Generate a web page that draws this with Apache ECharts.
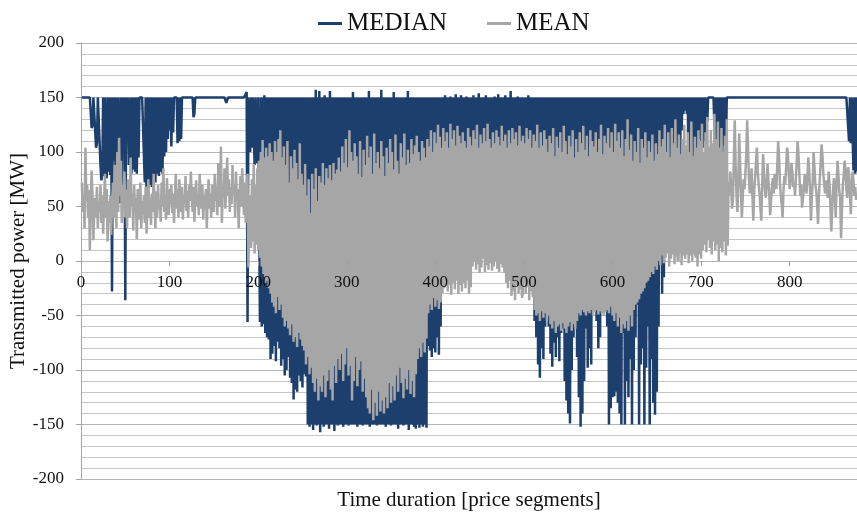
<!DOCTYPE html>
<html>
<head>
<meta charset="utf-8">
<title>Transmitted power</title>
<script src="https://cdn.jsdelivr.net/npm/echarts@6/dist/echarts.min.js"></script>
<style>
  html, body { margin: 0; padding: 0; background: #ffffff; }
  #chart { width: 857px; height: 514px; }
</style>
</head>
<body>
<div id="chart"></div>
<script>
// Series names shown in the legend
const seriesNames = ['MEDIAN', 'MEAN'];

// Labelled positions on the horizontal axis (price segments)
const xTickValues = [0, 100, 200, 300, 400, 500, 600, 700, 800];

// Median transmitted power per price segment [MW], segments 1..876
const median = [
  150,150,150,150,150,150,150,150,150,150,
  150,122,124,150,150,150,104,108,150,150,
  150,88,74,80,150,78,150,85,76,150,
  82,150,79,150,-28,150,92,150,85,150,
  90,150,150,53,150,60,150,128,150,-36,
  150,110,150,88,126,150,80,150,84,150,
  82,150,80,150,95,150,150,150,150,150,
  150,72,150,62,150,66,150,70,150,68,
  150,74,150,72,150,80,150,78,150,82,
  150,80,150,96,150,100,150,112,150,120,
  150,105,150,118,150,150,150,150,108,150,
  110,150,112,150,150,150,150,150,150,150,
  150,150,150,150,150,150,132,135,150,150,
  150,150,150,150,150,150,150,150,150,150,
  150,150,150,150,150,150,150,150,150,150,
  150,150,150,150,150,150,150,150,150,150,
  150,150,150,145,146,150,150,150,150,150,
  150,150,150,150,150,150,150,150,150,150,
  150,150,150,150,150,150,155,-56,150,150,
  100,150,104,150,150,88,150,150,90,150,
  150,-56,150,-60,150,-58,152,-66,150,-70,
  150,-72,150,-90,150,-85,150,-78,150,-92,
  150,-74,150,-80,150,-96,150,-90,150,-105,
  150,-100,150,-88,150,-107,150,-112,150,-127,
  150,-118,150,-120,150,-105,150,-110,150,-116,
  150,-104,150,-106,150,-150,150,-152,150,-150,
  150,-155,150,-150,157,-151,150,-150,156,-157,
  150,-150,150,-152,152,-150,150,-150,150,-154,
  156,-150,150,-150,150,-156,150,-150,150,-151,
  150,-150,150,-150,150,-152,150,-150,150,-150,
  150,-151,150,-150,150,-150,155,-150,150,-150,
  150,-152,150,-150,150,-150,150,-151,150,-150,
  150,-150,150,-150,156,-152,150,-150,150,-150,
  150,-150,150,-151,150,-150,150,-150,157,-150,
  150,-150,150,-152,150,-150,150,-150,150,-151,
  150,-150,155,-150,150,-150,150,-154,150,-150,
  150,-150,150,-151,150,-150,150,-150,156,-155,
  150,-150,150,-150,150,-152,150,-154,150,-150,
  150,-153,150,-150,150,-152,150,-150,150,-153,
  150,-78,150,-82,150,-88,150,-80,150,-84,
  150,-70,150,-86,150,-60,150,20,150,10,
  152,30,150,55,150,12,151,70,150,40,
  150,25,153,60,150,8,150,45,152,35,
  150,65,150,20,151,50,150,5,150,75,
  150,40,152,15,150,60,150,30,154,50,
  150,10,150,45,150,70,152,25,150,55,
  150,35,150,0,150,60,151,20,150,40,
  153,15,150,50,150,30,150,65,152,10,
  150,45,150,25,156,55,150,5,150,35,
  150,60,151,20,150,40,150,-32,150,15,
  150,20,150,-5,152,30,150,10,150,-15,
  150,-55,150,-70,150,-95,150,-107,150,-80,
  150,-90,150,-60,150,-40,150,-60,150,-85,
  150,-97,150,-75,150,-88,150,-70,150,-92,
  150,-66,150,-62,150,-110,150,-128,150,-140,
  150,-149,150,-100,150,-70,150,-40,150,-88,
  150,-125,150,-152,150,-140,150,-110,150,-62,
  150,-98,150,-80,150,-95,150,-40,150,-20,
  150,-55,150,-80,150,-70,150,-30,150,-20,
  150,-40,150,-60,150,-150,150,-135,150,-125,
  150,-124,150,-120,150,-130,150,-140,150,-150,
  150,-66,150,-150,150,-110,150,-125,150,-90,
  150,-150,150,-100,150,-70,150,-40,150,-150,
  150,-95,150,-80,150,-150,150,-98,150,-60,
  150,-150,150,-90,150,-130,150,-141,150,-120,
  150,-60,150,0,150,-30,150,-15,150,20,
  150,40,150,60,150,30,150,70,150,50,
  150,35,150,0,150,45,150,120,150,135,
  150,138,150,135,150,60,150,80,150,40,
  150,70,150,5,150,108,150,112,150,108,
  150,104,150,110,150,150,128,150,150,150,
  150,150,150,150,150,100,150,102,150,98,
  150,104,150,100,150,106,150,100,150,150,
  150,150,150,150,150,150,150,150,150,150,
  150,150,150,150,150,150,150,150,150,150,
  150,150,150,150,150,150,150,150,150,150,
  150,150,150,150,150,150,150,150,150,150,
  150,150,150,150,150,150,150,150,150,150,
  150,150,150,150,150,150,150,150,150,150,
  150,150,150,150,150,150,150,150,150,150,
  150,150,150,150,150,150,150,150,150,150,
  150,150,150,150,150,150,150,150,150,150,
  150,150,150,150,150,150,150,150,150,150,
  150,150,150,150,150,150,150,150,150,150,
  150,150,150,150,150,150,150,150,150,150,
  150,150,150,150,150,150,150,150,150,150,
  150,150,150,150,150,150,110,150,108,150,
  150,83,150,80,150,82
];

// Mean transmitted power per price segment [MW], segments 1..876
const mean = [
  72,45,60,30,104,55,70,40,65,10,
  50,83,60,19,48,58,40,68,30,55,
  45,70,35,60,25,52,80,40,66,18,
  55,35,60,24,48,72,40,88,55,30,
  100,45,113,60,92,35,70,48,82,40,
  65,30,75,55,40,95,50,62,28,70,
  45,58,20,66,38,50,72,30,55,42,
  60,35,68,25,48,75,40,58,33,62,
  45,80,52,30,64,40,70,48,56,36,
  72,50,85,45,60,38,76,55,42,66,
  52,70,44,62,35,58,80,48,66,40,
  75,55,45,68,38,60,52,78,46,64,
  40,70,55,82,60,45,68,36,58,74,
  50,62,42,80,56,48,70,38,60,52,
  66,30,58,75,48,62,40,70,54,45,
  80,55,68,42,90,60,50,105,35,64,
  58,85,48,70,95,60,75,45,68,52,
  88,62,70,40,82,55,66,30,60,78,
  50,85,60,42,72,35,68,80,-6,55,
  60,12,75,18,89,7,70,15,85,10,
  92,3,100,-5,111,-12,95,-20,104,-18,
  96,-25,108,-30,100,-38,92,-42,110,-48,
  100,-33,112,-45,120,-40,95,-52,105,-60,
  88,-55,110,-62,72,-68,96,-58,85,-74,
  102,-70,90,-79,75,-66,108,-72,80,-78,
  70,-82,89,-95,60,-88,75,-104,44,-98,
  80,-112,66,-120,85,-108,55,-128,78,-115,
  72,-120,90,-105,70,-125,85,-110,76,-100,
  88,-118,74,-128,90,-96,80,-112,84,-90,
  95,-100,82,-85,105,-110,90,-95,112,-80,
  86,-105,120,-96,100,-128,92,-110,108,-88,
  96,-115,80,-100,110,-92,77,-120,102,-108,
  88,-125,115,-135,95,-140,105,-118,80,-146,
  117,-130,90,-142,100,-120,85,-138,110,-128,
  96,-140,78,-125,104,-135,90,-112,112,-130,
  100,-115,84,-128,116,-105,92,-120,80,-98,
  108,-112,95,-126,117,-108,88,-118,102,-100,
  90,-122,112,-110,98,-125,106,-104,115,-90,
  100,-80,92,-88,110,-75,104,-84,95,-71,
  112,-48,105,-40,120,-45,100,-34,118,-42,
  108,-36,125,-44,114,-38,104,-30,122,-25,
  110,-18,118,-28,104,-22,126,-31,112,-20,
  120,-26,106,-18,124,-30,115,-22,108,-28,
  118,-20,110,-25,104,-18,122,-30,114,-24,
  106,-5,120,0,112,-8,125,-3,104,-11,
  116,-6,108,2,122,-10,110,-4,126,-8,
  112,-2,104,-9,118,-5,108,0,120,-7,
  114,-10,106,-3,124,-6,110,-11,116,-20,
  104,-25,120,-18,108,-32,122,-28,112,-36,
  118,-22,106,-30,124,-26,110,-34,115,-20,
  108,-30,122,-24,112,-36,120,-28,104,-33,
  116,-45,110,-50,125,-48,104,-55,118,-46,
  106,-52,120,-48,112,-55,100,-50,115,-58,
  108,-62,122,-55,96,-66,114,-60,104,-58,
  118,-64,100,-57,124,-62,110,-66,98,-60,
  115,-56,105,-64,120,-58,95,-62,112,-55,
  100,-48,118,-50,108,-45,124,-47,102,-50,
  115,-46,96,-48,120,-45,110,-50,105,-47,
  118,-45,100,-49,112,-46,125,-48,98,-50,
  115,-47,108,-45,122,-48,104,-42,118,-50,
  100,-55,126,-48,110,-60,118,-52,104,-66,
  120,-58,96,-62,112,-55,130,-64,102,-50,
  116,-60,92,-45,110,-40,100,-38,122,-35,
  90,-30,112,-28,104,-25,118,-20,95,-18,
  110,-15,100,-10,116,-12,92,-5,108,-8,
  98,0,120,-4,105,5,112,-2,125,3,
  100,7,118,-5,95,2,122,6,108,-3,
  130,4,104,0,116,7,98,-4,112,5,
  125,2,106,6,118,-2,100,5,128,0,
  96,7,114,3,104,-5,120,6,110,2,
  126,10,100,15,118,8,132,19,105,12,
  120,6,108,18,135,10,112,15,128,0,
  104,12,122,8,100,18,115,5,130,14,
  72,60,82,66,48,58,95,129,88,60,
  45,70,117,92,64,40,58,75,66,80,
  98,129,104,76,62,70,85,58,37,64,
  78,90,104,82,70,62,48,37,72,98,
  80,66,58,70,89,74,60,42,55,68,
  76,62,80,70,66,88,110,96,72,60,
  52,40,64,78,70,86,104,98,80,66,
  74,90,82,68,72,60,76,92,110,96,
  78,60,70,49,58,66,80,70,62,76,
  95,84,66,37,58,72,100,86,70,64,
  52,34,60,76,90,107,96,80,70,62,
  74,66,58,82,70,50,27,48,66,76,
  60,40,72,92,80,64,58,21,46,70,
  78,92,84,66,58,86,80,62,43,70,
  82,74,60,68,56,62
];

// Pair every value with its segment number (1-based)
const toPoints = values => values.map((v, k) => [k + 1, v]);

const serif = '"Liberation Serif", "Times New Roman", serif';
const textColor = '#111111';

const chart = echarts.init(document.getElementById('chart'), null, { renderer: 'canvas' });

chart.setOption({
  animation: false,
  backgroundColor: '#ffffff',
  textStyle: { fontFamily: serif },
  legend: {
    data: seriesNames,
    left: 313,
    top: 6,
    icon: 'rect',
    itemWidth: 24,
    itemHeight: 3,
    itemGap: 40,
    textStyle: { fontFamily: serif, fontSize: 25, color: textColor }
  },
  grid: { left: 81, right: 0, top: 43, bottom: 35, outerBoundsMode: 'none', containLabel: false },
  xAxis: {
    type: 'value',
    min: 0,
    max: 876,
    z: 5,
    // ticks and labels sit on the zero level, half the grid height above the bottom edge
    offset: -218,
    name: 'Time duration [price segments]',
    nameLocation: 'middle',
    nameGap: 229,
    nameMoveOverlap: false,
    nameTextStyle: { fontFamily: serif, fontSize: 21, color: textColor },
    // the zero line itself comes from the y-axis grid
    axisLine: { show: false, onZero: false },
    axisTick: {
      show: true,
      customValues: xTickValues,
      length: 5,
      lineStyle: { color: '#a0a0a0' }
    },
    axisLabel: {
      customValues: xTickValues,
      margin: 13,
      fontFamily: serif,
      fontSize: 17,
      color: textColor
    },
    splitLine: { show: false }
  },
  yAxis: {
    type: 'value',
    min: -200,
    max: 200,
    interval: 50,
    name: 'Transmitted power [MW]',
    nameLocation: 'middle',
    nameGap: 52,
    nameMoveOverlap: false,
    nameTextStyle: { fontFamily: serif, fontSize: 21, color: textColor },
    axisLine: { show: true, lineStyle: { color: '#a6a6a6', width: 1 } },
    axisTick: { show: true, length: 5, lineStyle: { color: '#a6a6a6' } },
    axisLabel: { margin: 17, fontFamily: serif, fontSize: 17, color: textColor },
    splitLine: { show: true, lineStyle: { color: '#b4b4b4', width: 1 } },
    minorTick: { show: false, splitNumber: 5 },
    minorSplitLine: { show: true, lineStyle: { color: '#c6c6c6', width: 1 } }
  },
  series: [
    {
      name: 'MEDIAN',
      type: 'line',
      data: toPoints(median),
      symbol: 'none',
      showSymbol: false,
      itemStyle: { color: '#1d3f6e' },
      lineStyle: { color: '#1d3f6e', width: 2.5 },
      z: 2
    },
    {
      name: 'MEAN',
      type: 'line',
      data: toPoints(mean),
      symbol: 'none',
      showSymbol: false,
      itemStyle: { color: '#a6a6a6' },
      lineStyle: { color: '#a6a6a6', width: 2.5 },
      z: 3
    }
  ]
});
</script>
</body>
</html>
